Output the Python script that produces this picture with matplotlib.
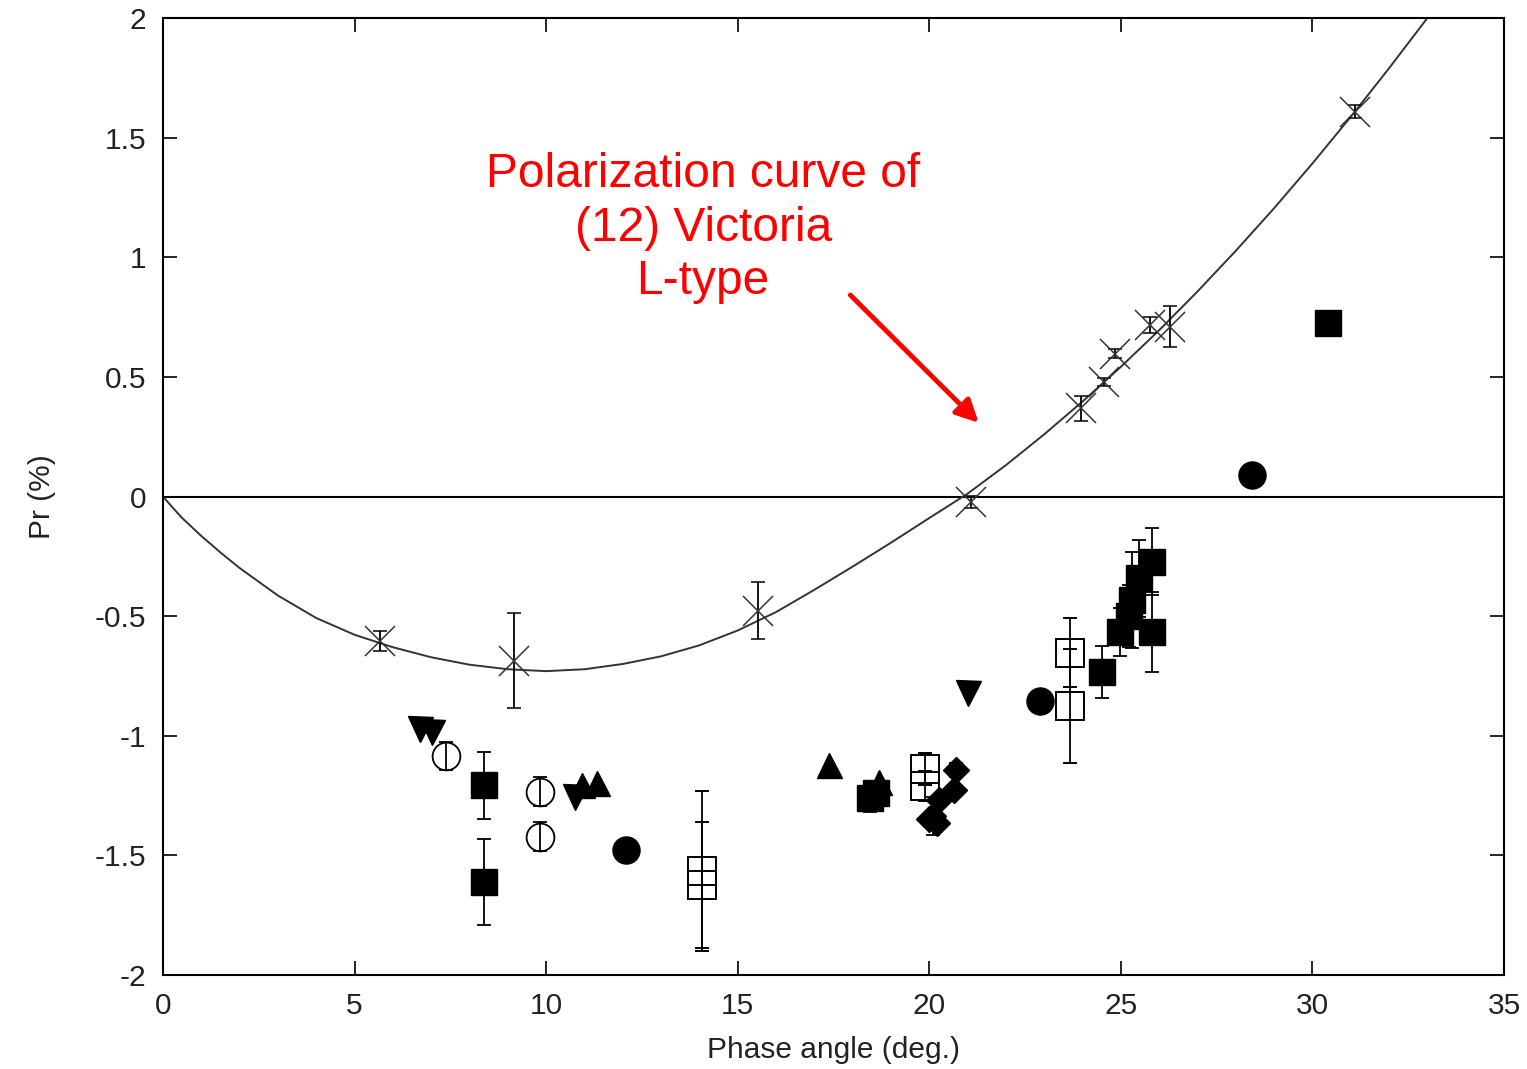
import numpy as np
import matplotlib
matplotlib.use('Agg')
import matplotlib.pyplot as plt

plt.rcParams['font.family'] = ['Liberation Sans', 'DejaVu Sans']
plt.rcParams['axes.unicode_minus'] = False

# fitted polarization curve of (12) Victoria
curve_x = [0, 0.25, 0.5, 1, 1.5, 2, 3, 4, 5, 6, 7, 8, 9, 10, 11, 12, 13, 14, 15,
           16, 17, 18, 19, 20, 21, 22, 23, 24, 25, 26, 27, 28, 29, 30, 31, 32, 33]
curve_y = [0, -0.046, -0.09, -0.165, -0.234, -0.299, -0.414, -0.508, -0.578,
           -0.630, -0.672, -0.703, -0.722, -0.730, -0.722, -0.700, -0.668,
           -0.622, -0.560, -0.483, -0.390, -0.293, -0.193, -0.090, 0.012,
           0.131, 0.26, 0.397, 0.542, 0.695, 0.857, 1.027, 1.205, 1.392,
           1.587, 1.79, 2.0]

# Victoria measurements (crosses)
vic_x = [5.67, 9.16, 15.53, 21.08, 23.97, 24.55, 24.86, 25.77, 26.29, 31.1]
vic_y = [-0.604, -0.686, -0.477, -0.022, 0.369, 0.48, 0.596, 0.717, 0.71, 1.608]
vic_err = [0.04, 0.2, 0.118, 0.025, 0.052, 0.017, 0.019, 0.032, 0.087, 0.028]

# filled squares
fsq_x = [8.38, 8.38, 18.45, 18.6, 24.51, 24.99, 25.2, 25.3, 25.47, 25.82, 25.82, 30.41]
fsq_y = [-1.206, -1.611, -1.26, -1.24, -0.732, -0.565, -0.5, -0.433, -0.342,
         -0.272, -0.565, 0.724]
fsq_err = [0.14, 0.18, 0.06, 0, 0.109, 0.1, 0.13, 0.2, 0.16, 0.14, 0.167, 0]

# open squares
osq_x = [14.07, 14.07, 19.9, 19.9, 23.68, 23.68]
osq_y = [-1.565, -1.625, -1.14, -1.21, -0.653, -0.876]
osq_err = [0.333, 0.263, 0.067, 0.063, 0.144, 0.238]

# filled circles
fci_x = [12.09, 22.9, 28.41]
fci_y = [-1.478, -0.855, 0.09]

# open circles
oci_x = [7.39, 9.84, 9.84]
oci_y = [-1.085, -1.234, -1.422]
oci_err = [0.06, 0.06, 0.06]

# triangles
utr_x = [10.93, 11.32, 17.37, 18.68]
utr_y = [-1.206, -1.199, -1.122, -1.192]
dtr_x = [6.71, 7.02, 10.76, 21.0]
dtr_y = [-0.972, -0.985, -1.255, -0.823]

# diamonds
dia_x = [20.7, 20.65, 20.25, 20.1, 20.2, 20.0]
dia_y = [-1.143, -1.225, -1.27, -1.335, -1.365, -1.35]
dia_err = [0.03, 0, 0, 0.08, 0, 0]

xticks = [0, 5, 10, 15, 20, 25, 30, 35]
yticks = [-2, -1.5, -1, -0.5, 0, 0.5, 1, 1.5, 2]
ytick_labels = ['-2', '-1.5', '-1', '-0.5', '0', '0.5', '1', '1.5', '2']

fig = plt.figure(figsize=(15.27, 10.69), dpi=100)
ax = fig.add_axes([0.10675, 0.08793, 0.87819, 0.89523])

ax.axhline(0, color='black', lw=1.5, zorder=1)
ax.plot(curve_x, curve_y, color='#333333', lw=1.4, zorder=2)

eb = dict(ecolor='black', elinewidth=1.3, capsize=5, capthick=1.3, linestyle='none')
ax.errorbar(vic_x, vic_y, yerr=vic_err, fmt='x', ms=21, mew=1.1,
            color='#333333', **eb)
ax.errorbar(fsq_x, fsq_y, yerr=fsq_err, fmt='s', ms=19, color='black', **eb)
ax.errorbar(osq_x, osq_y, yerr=osq_err, fmt='s', ms=20, mfc='none', mec='black',
            mew=1.4, **eb)
ax.plot(fci_x, fci_y, 'o', ms=19.5, color='black', linestyle='none')
ax.errorbar(oci_x, oci_y, yerr=oci_err, fmt='o', ms=20, mfc='none', mec='black',
            mew=1.3, **eb)
ax.plot(utr_x, utr_y, '^', ms=18, color='black', linestyle='none')
ax.plot(dtr_x, dtr_y, 'v', ms=18, color='black', linestyle='none')
ax.errorbar(dia_x, dia_y, yerr=dia_err, fmt='D', ms=13.5, color='black', **eb)

ax.text(14.1, 1.122, 'Polarization curve of\n(12) Victoria\nL-type',
        color='red', fontsize=34.5, ha='center', va='center',
        multialignment='center', linespacing=1.25)
ax.annotate('', xy=(21.29, 0.308), xytext=(17.94, 0.842),
            arrowprops=dict(arrowstyle='-|>', color='red', lw=3.5,
                            mutation_scale=34, shrinkA=0, shrinkB=0))

ax.set_xlim(0, 35)
ax.set_ylim(-2, 2)
ax.set_xticks(xticks)
ax.set_xticklabels([str(t) for t in xticks])
ax.set_yticks(yticks)
ax.set_yticklabels(ytick_labels)
ax.tick_params(direction='in', length=10, width=1.2, top=True, right=True,
               labelsize=21.5, labelcolor='#222222')
ax.tick_params(axis='x', pad=12)
ax.tick_params(axis='y', pad=12)
for s in ax.spines.values():
    s.set_linewidth(1.5)

ax.set_xlabel('Phase angle (deg.)', fontsize=21.5, color='#222222', labelpad=12)
ax.set_ylabel('Pr (%)', fontsize=21.5, color='#222222', labelpad=28)

fig.savefig('out.png', dpi=100)
